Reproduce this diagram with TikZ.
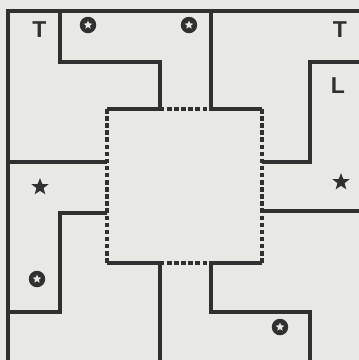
\documentclass[tikz,border=0pt]{standalone}
\usepackage{fontspec}
\setmainfont{Liberation Sans}
\usetikzlibrary{shapes.geometric}
\definecolor{bg}{RGB}{232,232,229}
\definecolor{ink}{RGB}{48,48,48}
\tikzset{
  wall/.style={draw=ink, line width=3.2pt, line join=miter},
  dwall/.style={draw=ink, line width=3.2pt, dash pattern=on 4.5pt off 2.6pt},
  letter/.style={text=ink, font=\fontsize{23}{23}\selectfont\bfseries, inner sep=0pt},
  bstar/.style={star, star points=5, star point ratio=2.4, fill=ink, inner sep=0pt, minimum size=18pt},
  cstar/.style={circle, fill=ink, inner sep=0pt, minimum size=16.5pt,
    path picture={\node[star, star points=5, star point ratio=2.2, fill=bg, inner sep=0pt, minimum size=9pt] at (path picture bounding box.center) {};}}
}
\begin{document}
\begin{tikzpicture}[x=1pt,y=-1pt]
\fill[bg] (0,0) rectangle (359,360);
\useasboundingbox (0,0) rectangle (359,360);
% frame
\draw[wall] (8,360) -- (8,11) -- (359,11);
% pieces
\draw[wall] (60,11) -- (60,62) -- (160,62) -- (160,109) -- (107,109);
\draw[wall] (211,11) -- (211,109) -- (262,109);
\draw[wall] (359,62) -- (310,62) -- (310,162) -- (262,162);
\draw[wall] (8,162) -- (107,162);
\draw[wall] (107,213) -- (60,213) -- (60,312) -- (8,312);
\draw[wall] (359,211) -- (262,211);
\draw[wall] (160,360) -- (160,263) -- (107,263);
\draw[wall] (262,263) -- (211,263) -- (211,312) -- (310,312) -- (310,360);
% dashed centre
\draw[dwall] (160,109) -- (211,109);
\draw[dwall] (160,263) -- (211,263);
\draw[dwall] (107,109) -- (107,263);
\draw[dwall] (262,109) -- (262,263);
% labels
\node[letter] (t1) at (39.5,30) {T};
\node[letter] (t2) at (340,30) {T};
\node[letter] (l1) at (338,86) {L};
\node[cstar] (c1) at (88,25) {};
\node[cstar] (c2) at (189,25) {};
\node[cstar] (c3) at (37,279) {};
\node[cstar] (c4) at (280,327) {};
\node[bstar] (s1) at (40,187) {};
\node[bstar] (s2) at (341,182) {};
\end{tikzpicture}
\end{document}
